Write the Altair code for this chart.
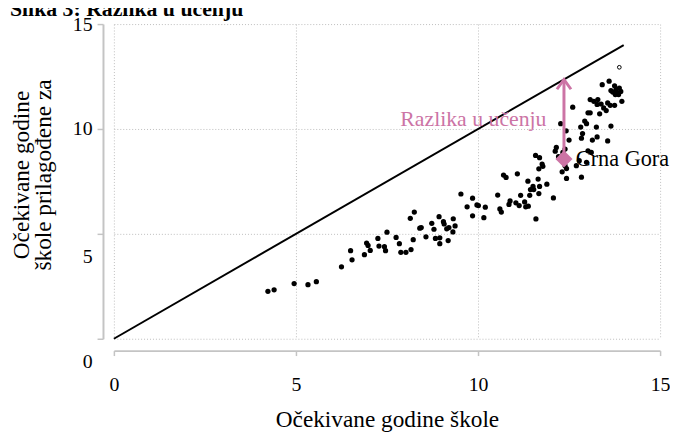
import altair as alt
import pandas as pd

# Expected years of school (x) and learning-adjusted years of school (y)
eys = [4.23, 4.40, 4.95, 5.33, 5.56, 6.25, 6.50, 6.54, 6.88, 6.94, 6.98, 7.04, 7.25, 7.28, 7.43,
       7.46, 7.50, 7.75, 7.84, 7.88, 8.02, 8.16, 8.22, 8.14, 8.25, 8.40, 8.44, 8.57, 8.73, 8.79,
       8.83, 8.95, 8.95, 8.93, 9.05, 9.07, 9.14, 9.20, 9.18, 9.31, 9.32, 9.37, 9.53, 9.70, 9.85,
       9.85, 9.97, 10.01, 10.16, 10.20,
       10.54, 10.60, 10.64, 10.85, 10.88, 11.04, 11.13, 11.17, 11.28, 11.31, 11.38, 11.42, 11.37,
       11.44, 11.51, 11.53, 11.59, 11.67, 11.69, 11.65, 11.89, 12.07, 10.70, 10.77, 11.08, 11.58,
       11.69, 11.76, 11.78, 11.67, 12.31, 12.43, 12.43, 12.15, 12.12, 12.39, 12.33, 12.21, 12.78,
       12.70, 13.02, 13.11, 12.98, 12.39, 12.84, 12.50, 12.27, 12.42, 12.82, 13.25, 13.65, 12.87,
       12.84, 13.14, 13.27, 13.56, 12.60, 13.02, 13.08, 13.34, 13.52, 12.93, 12.98, 13.08, 13.18,
       13.29, 13.27, 13.38, 13.45, 13.56, 13.63, 13.75, 13.95, 13.41, 13.60, 13.75, 13.79, 13.88,
       13.83, 13.92, 13.86, 13.77, 13.70, 13.65]
lays = [2.26, 2.33, 2.63, 2.58, 2.72, 3.43, 4.20, 3.76, 4.01, 4.56, 4.45, 4.21, 4.78, 4.42, 4.39,
        4.20, 5.08, 4.83, 4.53, 4.12, 4.12, 4.25, 4.72, 5.74, 6.04, 5.27, 5.30, 4.86, 5.50, 5.22,
        4.78, 4.81, 4.53, 5.82, 5.58, 5.47, 5.24, 5.30, 4.68, 5.09, 5.72, 5.38, 6.90, 6.29, 6.70,
        5.86, 6.38, 6.35, 5.77, 6.27,
        6.85, 6.19, 6.04, 6.40, 6.57, 6.48, 6.35, 6.84, 6.52, 6.29, 6.32, 6.84, 7.51,
        7.11, 7.26, 7.11, 5.71, 6.92, 7.26, 7.61, 7.37, 6.71, 7.80, 7.69, 7.86, 8.74,
        8.63, 8.33, 8.22, 8.10, 7.96, 7.64, 8.11, 9.12, 8.94, 9.04, 8.88, 8.68, 8.49,
        8.25, 8.96, 8.88, 8.41, 8.25, 7.70, 9.47, 10.25, 9.91, 10.09, 10.09, 10.14, 9.78,
        9.56, 9.47, 9.62, 9.43, 11.04, 10.77, 10.77, 10.72, 10.88, 10.38, 10.25, 11.40, 11.32,
        11.40, 11.17, 11.19, 11.00, 11.24, 11.13, 11.13, 11.32, 12.11, 12.28, 12.06, 11.87, 11.95,
        11.71, 11.79, 11.64, 11.64, 11.76, 11.83]

hollow_x = [13.88]
hollow_y = [12.94]

diag_x = [0, 14]
diag_y = [0, 14]

mne_name = "Crna Gora"
mne_x = 12.36
mne_y = 8.57

ticks = [0, 5, 10, 15]
x_title = "Očekivane godine škole"
y_title = ["Očekivane godine", "škole prilagođene za"]
gap_label = "Razlika u učenju"
chart_title = "Slika 3: Razlika u učenju"

PINK = "#cc74a5"
FONT = "Liberation Serif"
AXC = "#c4c4c4"

xs = alt.Scale(domain=[0, 15], nice=False, zero=False)
ys = alt.Scale(domain=[0, 15], nice=False, zero=False)

df = pd.DataFrame({"x": eys, "y": lays})
hollow = pd.DataFrame({"x": hollow_x, "y": hollow_y})
diag = pd.DataFrame({"x": diag_x, "y": diag_y})
mne = pd.DataFrame({"x": [mne_x], "y": [mne_y], "y2": [mne_x], "name": [mne_name]})
lab = pd.DataFrame({"x": [mne_x - 0.48], "y": [10.47], "t": [gap_label]})
ttl = pd.DataFrame({"t": [chart_title]})

xaxis = alt.Axis(values=ticks, title=x_title, grid=True, gridColor="#bdbdbd", gridDash=[1, 2],
                 gridWidth=1, domainColor=AXC, domainWidth=2, tickColor=AXC, tickWidth=1.5,
                 tickSize=5, offset=12, labelFontSize=20, labelPadding=19, labelColor="black",
                 labelFlush=False,
                 titleFontSize=23.5, titleFontWeight="normal", titleColor="black", titlePadding=14,
                 labelFont=FONT, titleFont=FONT)
yaxis = alt.Axis(values=ticks, title=y_title, grid=True, gridColor="#bdbdbd", gridDash=[1, 2],
                 gridWidth=1, domainColor=AXC, domainWidth=2, tickColor=AXC, tickWidth=1.5,
                 tickSize=6, offset=11, labelFontSize=20, labelPadding=5, labelColor="black",
                 labelFlush=False,
                 labelOffset={"condition": {"test": "datum.value <= 5", "value": 23}, "value": 0},
                 titleFontSize=23.5, titleFontWeight="normal", titleColor="black", titlePadding=17,
                 titleLineHeight=22, titleY=152, labelFont=FONT, titleFont=FONT)


def X(field="x"):
    return alt.X(f"{field}:Q", scale=xs, axis=xaxis, title=x_title)


def Y(field="y"):
    return alt.Y(f"{field}:Q", scale=ys, axis=yaxis, title=y_title)


pts = alt.Chart(df).mark_circle(size=28, color="black", opacity=1).encode(x=X(), y=Y())
hol = alt.Chart(hollow).mark_point(size=14, filled=False, color="black", strokeWidth=1,
                                   opacity=1).encode(x=X(), y=Y())
line = alt.Chart(diag).mark_line(color="black", strokeWidth=2).encode(x=X(), y=Y())
rule = alt.Chart(mne).mark_rule(color=PINK, strokeWidth=3).encode(x=X(), y=Y(), y2="y2:Q")
head = alt.Chart(mne).mark_point(shape="M-1,1.4L0,0L1,1.4", filled=False, color=PINK,
                                 strokeWidth=3, size=200, opacity=1).encode(x=X(), y=Y("y2"))
dia = alt.Chart(mne).mark_point(shape="diamond", filled=True, color=PINK, size=300,
                                opacity=1).encode(x=X(), y=Y())
mtxt = alt.Chart(mne).mark_text(align="left", baseline="middle", dx=12, dy=0, fontSize=22.5,
                                font=FONT, color="black").encode(x=X(), y=Y(), text="name:N")
gtxt = alt.Chart(lab).mark_text(align="right", baseline="middle", fontSize=22, font=FONT,
                                color=PINK).encode(x=X(), y=Y(), text="t:N")
ttxt = alt.Chart(ttl).mark_text(align="left", baseline="alphabetic", fontSize=22,
                                fontWeight="bold", font=FONT, color="black").encode(
    x=alt.value(-105), y=alt.value(-8), text="t:N")

chart = alt.layer(line, pts, hol, rule, head, dia, mtxt, gtxt, ttxt).properties(
    width=552, height=318,
    padding={"left": 107, "top": 14, "right": 10, "bottom": 93},
    autosize=alt.AutoSizeParams(type="none"),
).configure(font=FONT, view=alt.ViewConfig(stroke=None))

chart.save("out.html", embed_options={"renderer": "svg", "actions": False})
